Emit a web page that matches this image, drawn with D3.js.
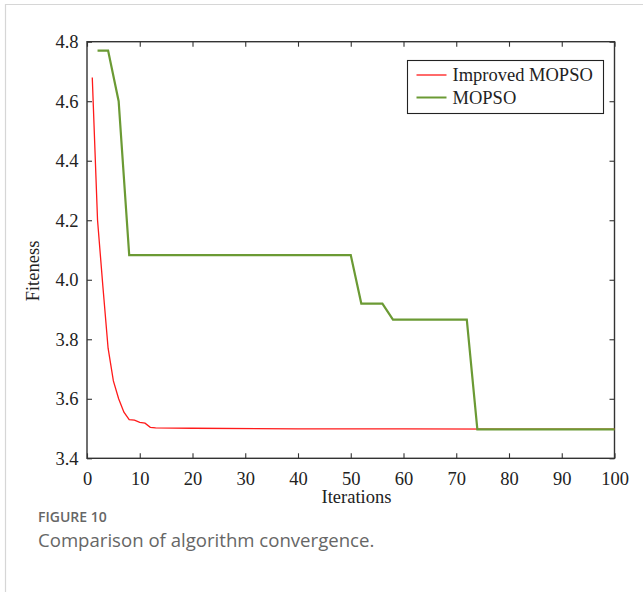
<!DOCTYPE html>
<html>
<head>
<meta charset="utf-8">
<script src="https://cdn.jsdelivr.net/npm/d3@7"></script>
<style>
  html, body { margin: 0; padding: 0; background: #fff; }
  svg { display: block; }
</style>
</head>
<body>
<svg id="chart" width="643" height="592"></svg>
<script>
// Convergence of the fitness value over the iterations
const improvedIter = [1, 2, 3, 4, 5, 6, 7, 8, 9, 10, 11, 12, 13, 20, 40, 60, 80, 100];
const improvedFit  = [4.68, 4.20, 3.98, 3.77, 3.66, 3.60, 3.555, 3.53, 3.528, 3.521, 3.518, 3.504, 3.502, 3.501, 3.499, 3.499, 3.498, 3.498];

const mopsoIter = [2, 4, 6, 8, 50, 52, 56, 58, 72, 74, 100];
const mopsoFit  = [4.77, 4.77, 4.60, 4.083, 4.083, 3.92, 3.92, 3.866, 3.866, 3.497, 3.497];

const seriesNames = ["Improved MOPSO", "MOPSO"];
const seriesColors = ["#ff1a1a", "#6b9a34"];

const xTicks = [0, 10, 20, 30, 40, 50, 60, 70, 80, 90, 100];
const yTicks = [3.4, 3.6, 3.8, 4.0, 4.2, 4.4, 4.6, 4.8];

const svg = d3.select("#chart");
const serif = "'Liberation Serif', 'Times New Roman', serif";
const sans = "'Open Sans', 'Noto Sans', sans-serif";

// panel border
svg.append("path")
  .attr("d", "M5.5,592 L5.5,4.5 L643,4.5")
  .attr("fill", "none")
  .attr("stroke", "#d6d6d6")
  .attr("stroke-width", 1.2);

const plotLeft = 87, plotRight = 614.5, plotTop = 41.7, plotBottom = 458.3;

const x = d3.scaleLinear().domain([0, 100]).range([plotLeft, plotRight]);
const y = d3.scaleLinear().domain([3.4, 4.8]).range([plotBottom, plotTop]);

const axisColor = "#333";
function styleAxis(g, showText) {
  g.select(".domain").remove();
  g.selectAll(".tick line").attr("stroke", axisColor).attr("stroke-width", 1.1);
  g.selectAll(".tick text")
    .attr("fill", "#222")
    .style("font-family", serif)
    .style("font-size", "18.5px")
    .style("display", showText ? null : "none");
}

svg.append("g")
  .attr("transform", `translate(0,${plotBottom})`)
  .call(d3.axisBottom(x).tickValues(xTicks).tickSizeInner(-5).tickSizeOuter(0).tickPadding(13.5).tickFormat(d3.format("d")))
  .call(g => styleAxis(g, true));

svg.append("g")
  .attr("transform", `translate(0,${plotTop})`)
  .call(d3.axisTop(x).tickValues(xTicks).tickSizeInner(-5).tickSizeOuter(0))
  .call(g => styleAxis(g, false));

svg.append("g")
  .attr("transform", `translate(${plotLeft},0)`)
  .call(d3.axisLeft(y).tickValues(yTicks).tickSizeInner(-5).tickSizeOuter(0).tickPadding(8.5).tickFormat(d3.format(".1f")))
  .call(g => styleAxis(g, true));

svg.append("g")
  .attr("transform", `translate(${plotRight},0)`)
  .call(d3.axisRight(y).tickValues(yTicks).tickSizeInner(-5).tickSizeOuter(0))
  .call(g => styleAxis(g, false));

// plot frame
svg.append("rect")
  .attr("x", plotLeft).attr("y", plotTop)
  .attr("width", plotRight - plotLeft).attr("height", plotBottom - plotTop)
  .attr("fill", "none")
  .attr("stroke", axisColor)
  .attr("stroke-width", 1.4);

// series lines
const line = d3.line().x(d => x(d[0])).y(d => y(d[1]));
const improvedData = improvedIter.map((t, i) => [t, improvedFit[i]]);
const mopsoData = mopsoIter.map((t, i) => [t, mopsoFit[i]]);

svg.append("path")
  .datum(improvedData)
  .attr("d", line)
  .attr("fill", "none")
  .attr("stroke", seriesColors[0])
  .attr("stroke-width", 1.3);

svg.append("path")
  .datum(mopsoData)
  .attr("d", line)
  .attr("fill", "none")
  .attr("stroke", seriesColors[1])
  .attr("stroke-width", 2.2)
  .attr("stroke-linejoin", "miter");

// legend
const legend = svg.append("g");
legend.append("rect")
  .attr("x", 407.5).attr("y", 60.5)
  .attr("width", 196).attr("height", 53)
  .attr("fill", "#fff")
  .attr("stroke", "#222")
  .attr("stroke-width", 1.1);
seriesNames.forEach((name, i) => {
  const ly = 75 + i * 22.5;
  legend.append("line")
    .attr("x1", 416.5).attr("x2", 446.5)
    .attr("y1", ly).attr("y2", ly)
    .attr("stroke", seriesColors[i])
    .attr("stroke-width", i === 0 ? 1.3 : 2);
  legend.append("text")
    .attr("x", 452.5).attr("y", ly + 6)
    .attr("fill", "#222")
    .style("font-family", serif)
    .style("font-size", "18.5px")
    .text(name);
});

// axis titles
svg.append("text")
  .attr("x", 356.5).attr("y", 503)
  .attr("text-anchor", "middle")
  .attr("fill", "#222")
  .style("font-family", serif)
  .style("font-size", "18.5px")
  .text("Iterations");

svg.append("text")
  .attr("transform", "translate(39,271) rotate(-90)")
  .attr("text-anchor", "middle")
  .attr("fill", "#222")
  .style("font-family", serif)
  .style("font-size", "18.5px")
  .text("Fiteness");

// caption
svg.append("text")
  .attr("x", 38).attr("y", 522)
  .attr("fill", "#666")
  .style("font-family", sans)
  .style("font-size", "14px")
  .style("font-weight", "600")
  .text("FIGURE 10");

svg.append("text")
  .attr("x", 38).attr("y", 547)
  .attr("fill", "#666")
  .style("font-family", sans)
  .style("font-size", "18.6px")
  .text("Comparison of algorithm convergence.");
</script>
</body>
</html>
